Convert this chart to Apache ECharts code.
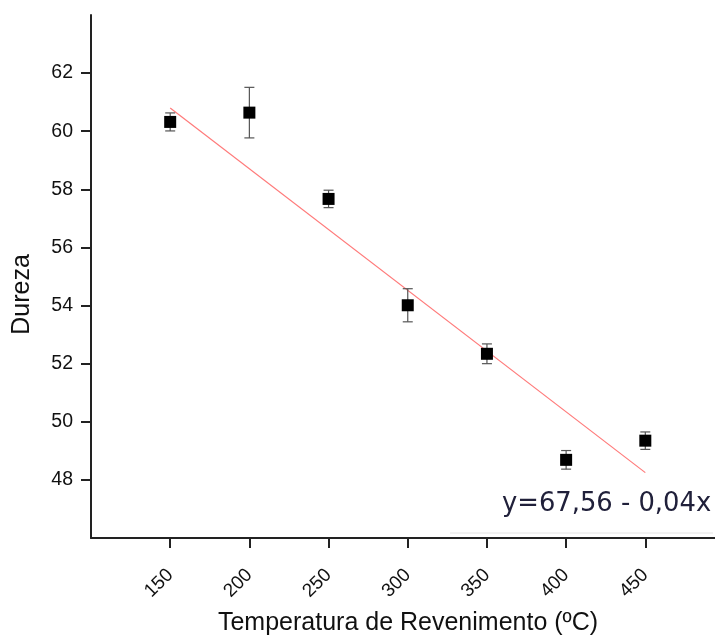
<!DOCTYPE html>
<html>
<head>
<meta charset="utf-8">
<script src="https://cdn.jsdelivr.net/npm/echarts@6/dist/echarts.min.js"></script>
<style>
  html, body { margin: 0; padding: 0; background: #fff; }
  #chart { width: 715px; height: 636px; }
</style>
</head>
<body>
<div id="chart"></div>
<script>
// temperatura de revenimento (ºC) e dureza medida
const temps = [150, 200, 250, 300, 350, 400, 450]
const dureza = [60.32, 60.64, 57.67, 54.01, 52.34, 48.69, 49.35]
const erro = [0.31, 0.87, 0.30, 0.57, 0.34, 0.32, 0.30]
// reta ajustada (pontos extremos)
const fitX = [150, 450]
const fitY = [60.8, 48.25]
const xTicks = [150, 200, 250, 300, 350, 400, 450]
const yTicks = [48, 50, 52, 54, 56, 58, 60, 62]
const equacao = 'y=67,56 - 0,04x'

const font = 'Liberation Sans, Arial, sans-serif'

const chart = echarts.init(document.getElementById('chart'))

const option = {
  animation: false,
  grid: { left: 91, right: 0, top: 15, bottom: 98, outerBoundsMode: 'none', containLabel: false },
  xAxis: {
    type: 'value',
    min: 100,
    max: 494,
    name: 'Temperatura de Revenimento (ºC)',
    nameLocation: 'middle',
    nameGap: 73,
    nameTextStyle: { fontFamily: font, fontSize: 25, color: '#111', padding: [0, 0, 0, 10] },
    axisLine: { lineStyle: { color: '#222', width: 2 } },
    axisTick: { customValues: xTicks, length: 10, lineStyle: { color: '#222', width: 2 } },
    axisLabel: {
      customValues: xTicks,
      rotate: 45,
      margin: 34,
      fontFamily: font,
      fontSize: 19,
      color: '#111'
    },
    splitLine: { show: false }
  },
  yAxis: {
    type: 'value',
    min: 46,
    max: 64,
    name: 'Dureza',
    nameLocation: 'middle',
    nameGap: 56,
    nameTextStyle: { fontFamily: font, fontSize: 25, color: '#111', padding: [0, 36, 0, 0] },
    axisLine: { lineStyle: { color: '#222', width: 2 } },
    axisTick: { customValues: yTicks, length: 10, lineStyle: { color: '#222', width: 2 } },
    axisLabel: {
      customValues: yTicks,
      margin: 18,
      fontFamily: font,
      fontSize: 19.5,
      color: '#111'
    },
    splitLine: { show: false }
  },
  series: [
    {
      name: 'ajuste',
      type: 'line',
      data: fitX.map((x, i) => [x, fitY[i]]),
      symbol: 'none',
      lineStyle: { color: '#ff7a7a', width: 1.2 },
      z: 1
    },
    {
      name: 'erro',
      type: 'custom',
      data: temps.map((t, i) => [t, dureza[i] - erro[i], dureza[i] + erro[i]]),
      renderItem: (params, api) => {
        const lo = api.coord([api.value(0), api.value(1)])
        const hi = api.coord([api.value(0), api.value(2)])
        const w = 5
        const style = { stroke: '#555', lineWidth: 1.2 }
        return {
          type: 'group',
          children: [
            { type: 'line', shape: { x1: lo[0], y1: lo[1], x2: hi[0], y2: hi[1] }, style },
            { type: 'line', shape: { x1: lo[0] - w, y1: lo[1], x2: lo[0] + w, y2: lo[1] }, style },
            { type: 'line', shape: { x1: hi[0] - w, y1: hi[1], x2: hi[0] + w, y2: hi[1] }, style }
          ]
        }
      },
      z: 2
    },
    {
      name: 'Dureza',
      type: 'scatter',
      data: temps.map((t, i) => [t, dureza[i]]),
      symbol: 'rect',
      symbolSize: 12,
      itemStyle: { color: '#000', opacity: 1 },
      z: 3
    }
  ],
  graphic: [
    {
      type: 'line',
      shape: { x1: 450, y1: 533, x2: 713, y2: 533 },
      style: { stroke: '#e4e4e4', lineWidth: 1 }
    },
    {
      type: 'text',
      left: 502,
      top: 491,
      style: {
        text: equacao,
        fontFamily: 'DejaVu Sans, sans-serif',
        fontSize: 25.8,
        fill: '#20203a'
      }
    }
  ]
}

chart.setOption(option)
</script>
</body>
</html>
